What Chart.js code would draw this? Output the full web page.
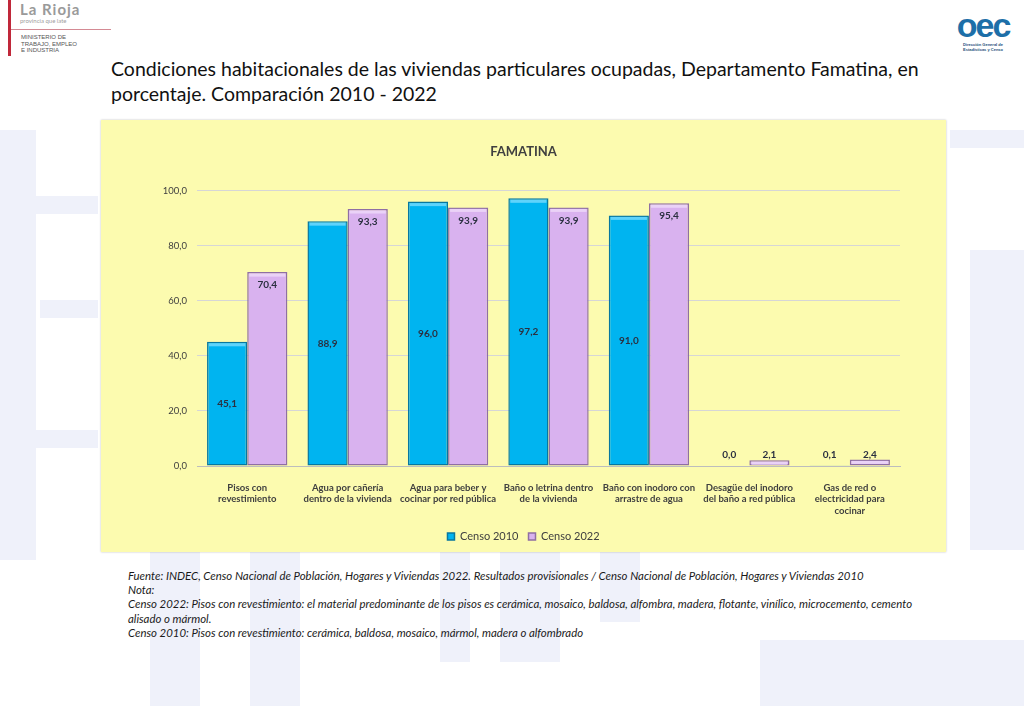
<!DOCTYPE html>
<html lang="es">
<head>
<meta charset="utf-8">
<script src="https://cdn.jsdelivr.net/npm/chart.js@4.4.0/dist/chart.umd.min.js"></script>
<style>
  body { margin: 0; width: 1024px; height: 706px; background: #fff; position: relative; overflow: hidden; font-family: Lato, "Noto Sans", sans-serif; }
  .wm { position: absolute; background: #eff1fa; }
  #logoLeft { position: absolute; left: 0; top: 0; width: 120px; height: 58px; }
  #logoLeft .bar { position: absolute; left: 8px; top: 0; width: 3px; height: 56px; background: #c0283a; }
  #logoLeft .line { position: absolute; left: 11px; top: 29px; width: 100px; height: 1px; background: #d48a94; }
  #logoLeft .name { position: absolute; left: 20px; top: 0; font: bold 15px Lato, sans-serif; color: #9a9a9a; letter-spacing: 1px; }
  #logoLeft .tag { position: absolute; left: 20px; top: 17px; font: 6px Lato, sans-serif; color: #a0a0a0; }
  #logoLeft .min { position: absolute; left: 21px; top: 34px; font: 6px/6.5px "Liberation Sans", sans-serif; color: #555; }
  #logoRight { position: absolute; left: 944px; top: 2px; width: 78px; height: 52px; text-align: center; }
  #logoRight .big { font: bold 34px/34px "Liberation Sans", sans-serif; color: #1d6fa8; letter-spacing: -2px; margin-top: 6px; }
  #logoRight .sm { font: bold 4px/5px sans-serif; color: #1d4f7a; }
  #title { position: absolute; left: 111px; top: 56px; width: 860px; font-size: 19.5px; line-height: 25px; color: #111; }
  #box { position: absolute; left: 101px; top: 120px; width: 845px; height: 432px; background: rgba(251, 250, 160, 0.84); box-shadow: 0 0 2px rgba(0,0,0,0.25); }
  #foot { position: absolute; left: 128px; top: 569px; width: 808px; font-size: 11.4px; line-height: 14.2px; font-style: italic; color: #1a1a1a; }
</style>
</head>
<body>
<!-- faint background watermark -->
<div class="wm" style="left:0;top:130px;width:36px;height:430px"></div>
<div class="wm" style="left:0;top:196px;width:98px;height:18px"></div>
<div class="wm" style="left:40px;top:300px;width:58px;height:18px"></div>
<div class="wm" style="left:0;top:430px;width:98px;height:18px"></div>
<div class="wm" style="left:150px;top:552px;width:50px;height:154px"></div>
<div class="wm" style="left:250px;top:552px;width:50px;height:154px"></div>
<div class="wm" style="left:440px;top:552px;width:30px;height:110px"></div>
<div class="wm" style="left:500px;top:552px;width:60px;height:110px"></div>
<div class="wm" style="left:600px;top:552px;width:40px;height:70px"></div>
<div class="wm" style="left:760px;top:640px;width:264px;height:66px"></div>
<div class="wm" style="left:950px;top:130px;width:74px;height:18px"></div>
<div class="wm" style="left:970px;top:250px;width:54px;height:300px"></div>

<div id="logoLeft">
  <div class="bar"></div>
  <div class="name">La Rioja</div>
  <div class="tag">provincia que late</div>
  <div class="line"></div>
  <div class="min">MINISTERIO DE<br>TRABAJO, EMPLEO<br>E INDUSTRIA</div>
</div>
<div id="logoRight">
  <div class="big">oec</div>
  <div class="sm">Dirección General de<br>Estadísticas y Censo</div>
</div>

<div id="title">Condiciones habitacionales de las viviendas particulares ocupadas, Departamento Famatina, en<br>porcentaje. Comparación 2010 - 2022</div>

<div id="box"><canvas id="chart" width="845" height="432"></canvas></div>

<div id="foot">
  Fuente: INDEC, Censo Nacional de Población, Hogares y Viviendas 2022. Resultados provisionales / Censo Nacional de Población, Hogares y Viviendas 2010<br>
  Nota:<br>
  Censo 2022: Pisos con revestimiento: el material predominante de los pisos es cerámica, mosaico, baldosa, alfombra, madera, flotante, vinílico, microcemento, cemento<br>
  alisado o mármol.<br>
  Censo 2010: Pisos con revestimiento: cerámica, baldosa, mosaico, mármol, madera o alfombrado
</div>

<script>
// categories (x axis), wrapped as in the original
const categories = [
    ['Pisos con', 'revestimiento'],
    ['Agua por cañería', 'dentro de la vivienda'],
    ['Agua para beber y', 'cocinar por red pública'],
    ['Baño o letrina dentro', 'de la vivienda'],
    ['Baño con inodoro con', 'arrastre de agua'],
    ['Desagüe del inodoro', 'del baño a red pública'],
    ['Gas de red o', 'electricidad para', 'cocinar']
];

const censo2010 = [45.1, 88.9, 96.0, 97.2, 91.0, 0.0, 0.1];
const censo2022 = [70.4, 93.3, 93.9, 93.9, 95.4, 2.1, 2.4];

const yTicks = [0, 20, 40, 60, 80, 100];

const fmt = v => v.toFixed(1).replace('.', ',');

// value labels: 2010 in the middle of the bar, 2022 near the top, small ones above
const barLabels = {
    id: 'barLabels',
    afterDatasetsDraw(chart) {
        const ctx = chart.ctx;
        ctx.save();
        ctx.font = 'bold 10px Lato, sans-serif';
        ctx.fillStyle = '#2b3040';
        ctx.textAlign = 'center';
        ctx.textBaseline = 'middle';
        chart.data.datasets.forEach((ds, i) => {
            chart.getDatasetMeta(i).data.forEach((bar, j) => {
                const v = ds.data[j];
                let y;
                if (v < 10) y = bar.base - 11;
                else if (i === 0) y = (bar.y + bar.base) / 2;
                else y = bar.y + 13;
                ctx.fillText(fmt(v), bar.x, y);
            });
        });
        ctx.restore();
    }
};

// light bevel on top of each bar
const bevel = {
    id: 'bevel',
    afterDatasetsDraw(chart) {
        const ctx = chart.ctx;
        const tops = ['#5fd3fb', '#ead2f7'];
        ctx.save();
        chart.data.datasets.forEach((ds, i) => {
            chart.getDatasetMeta(i).data.forEach(bar => {
                const h = bar.base - bar.y;
                if (h < 4) return;
                const w = bar.width;
                ctx.fillStyle = tops[i];
                ctx.fillRect(bar.x - w / 2 + 2, bar.y + 1.5, w - 4, 3);
            });
        });
        ctx.restore();
    }
};

new Chart(document.getElementById('chart'), {
    type: 'bar',
    data: {
        labels: categories,
        datasets: [
            {
                label: 'Censo 2010',
                data: censo2010,
                backgroundColor: '#00b4f0',
                borderColor: '#08779f',
                borderWidth: 1.5,
                borderSkipped: false
            },
            {
                label: 'Censo 2022',
                data: censo2022,
                backgroundColor: '#d9b2ef',
                borderColor: '#8f6fa3',
                borderWidth: 1.5,
                borderSkipped: false
            }
        ]
    },
    options: {
        responsive: false,
        animation: false,
        layout: { padding: 0 },
        datasets: { bar: { categoryPercentage: 0.8, barPercentage: 1.0 } },
        plugins: {
            title: {
                display: true,
                text: 'FAMATINA',
                color: '#404040',
                font: { family: 'Lato, sans-serif', size: 13, weight: 'bold' },
                padding: { top: 24, bottom: 31 }
            },
            legend: {
                position: 'bottom',
                labels: {
                    color: '#404040',
                    font: { family: 'Lato, sans-serif', size: 11 },
                    boxWidth: 7,
                    boxHeight: 7,
                    padding: 10
                }
            },
            tooltip: { enabled: false }
        },
        scales: {
            x: {
                grid: { display: false },
                border: { color: '#bdbdbd' },
                ticks: {
                    color: '#404040',
                    font: { family: 'Lato, sans-serif', size: 9.5, weight: 'bold' },
                    padding: 8,
                    maxRotation: 0,
                    autoSkip: false
                },
                afterFit(scale) { scale.height = 55; }
            },
            y: {
                min: 0,
                max: 100,
                afterBuildTicks(scale) { scale.ticks = yTicks.map(v => ({ value: v })); },
                grid: { color: '#d6d6d6', drawTicks: false },
                border: { display: false },
                ticks: {
                    color: '#404040',
                    font: { family: 'Lato, sans-serif', size: 9.5 },
                    padding: 10,
                    callback: v => fmt(v)
                },
                afterFit(scale) { scale.width = 96; }
            },
            // empty right-hand gutter so title and legend stay centred on the box
            gutter: {
                position: 'right',
                grid: { display: false },
                border: { display: false },
                ticks: { display: false },
                afterFit(scale) { scale.width = 46; }
            }
        }
    },
    plugins: [barLabels, bevel]
});
</script>
</body>
</html>
